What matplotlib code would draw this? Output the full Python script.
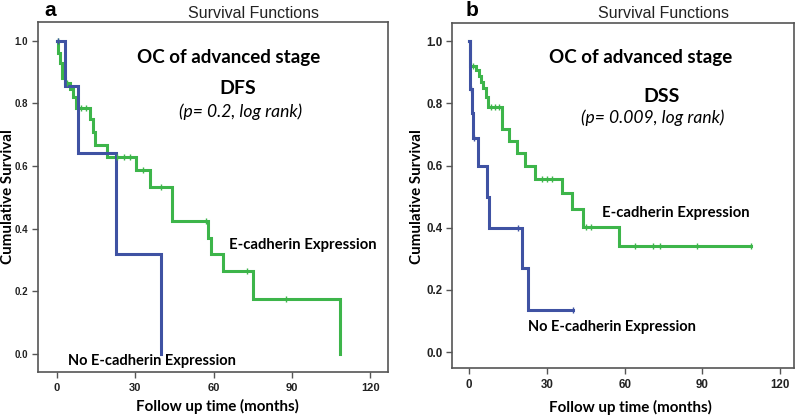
import numpy as np
import matplotlib
matplotlib.use("Agg")
import matplotlib.pyplot as plt

# ---------------- data ----------------
# Panel a: DFS
blue_a_t = [0, 3.0, 8.0, 22.6, 39.7]
blue_a_s = [1.0, 0.857, 0.643, 0.321, 0.0]
green_a_t = [0, 0.5, 1.2, 2.0, 3.1, 5.0, 6.2, 7.3, 12.6, 13.9, 14.6, 19.0, 30.2,
             35.6, 43.9, 58.0, 59.0, 63.6, 75.0, 108.4]
green_a_s = [1.0, 0.96, 0.93, 0.88, 0.865, 0.845, 0.82, 0.787, 0.75, 0.71, 0.667,
             0.63, 0.587, 0.532, 0.425, 0.372, 0.319, 0.266, 0.176, 0.0]
green_a_cens = [0.3, 4.0, 9.0, 11.0, 23.0, 25.5, 28.0, 33.0, 40.0, 57.0, 72.7, 87.7]
blue_a_cens = [0.2]

# Panel b: DSS
blue_b_t = [0, 0.2, 0.5, 1.0, 1.4, 3.6, 6.8, 7.8, 20.3, 22.6, 40.2]
blue_b_s = [1.0, 0.92, 0.846, 0.77, 0.69, 0.60, 0.50, 0.40, 0.27, 0.135, 0.135]
green_b_t = [0, 0.3, 2.7, 3.7, 4.6, 5.5, 6.6, 7.2, 12.7, 15.2, 18.4, 21.6, 25.5,
             35.7, 39.6, 44.1, 57.8, 108.6]
green_b_s = [1.0, 0.92, 0.907, 0.887, 0.869, 0.851, 0.82, 0.787, 0.719, 0.678,
             0.639, 0.600, 0.557, 0.511, 0.460, 0.401, 0.342, 0.342]
green_b_cens = [1.5, 8.5, 10.0, 11.5, 28.0, 30.0, 32.0, 45.0, 47.0, 64.0, 71.0,
                73.7, 87.8, 108.6]
blue_b_cens = [0.8, 2.0, 19.0, 40.2]

x_ticks = [0, 30, 60, 90, 120]
y_ticks = [0.0, 0.2, 0.4, 0.6, 0.8, 1.0]
y_ticklabels = ["0.0", "0.2", "0.4", "0.6", "0.8", "1.0"]

BLUE = "#3f52a3"
GREEN = "#3db54a"
CAL = ["Lato", "DejaVu Sans"]
ARI = ["Liberation Sans", "DejaVu Sans"]

fig = plt.figure(figsize=(8.0, 4.17), dpi=100)


def step_val(t, s, x):
    idx = np.searchsorted(np.asarray(t), x, side="right") - 1
    return np.asarray(s)[idx]


def draw_panel(ax, bt, bs, gt, gs, bc, gc, xfs, yfs):
    ax.step(gt, gs, where="post", color=GREEN, lw=2.2, solid_joinstyle="miter")
    ax.step(bt, bs, where="post", color=BLUE, lw=2.2, solid_joinstyle="miter")
    ax.plot(gc, [step_val(gt, gs, c) for c in gc], ls="none", marker="|",
            ms=4, mew=1.0, color=GREEN)
    ax.plot(bc, [step_val(bt, bs, c) for c in bc], ls="none", marker="|",
            ms=4, mew=1.0, color=BLUE)
    ax.set_xticks(x_ticks)
    ax.set_yticks(y_ticks)
    ax.set_yticklabels(y_ticklabels)
    for sp in ax.spines.values():
        sp.set_color("#555555")
        sp.set_linewidth(1.2)
    ax.tick_params(direction="out", length=4, width=1.0, color="#555555", pad=4)
    ax.tick_params(axis="x", labelsize=xfs)
    ax.tick_params(axis="y", labelsize=yfs, pad=3)
    for lab in ax.get_xticklabels() + ax.get_yticklabels():
        lab.set_fontfamily(ARI)
        lab.set_fontweight("bold")
        lab.set_color("#222222")


# ---------- panel a ----------
axa = fig.add_axes([0.0475, 0.1079, 0.4375, 0.8393])
draw_panel(axa, blue_a_t, blue_a_s, green_a_t, green_a_s, blue_a_cens,
           green_a_cens, 8.0, 7.0)
axa.set_xlim(-7.3, 126.8)
axa.set_ylim(-0.057, 1.06)

# ---------- panel b ----------
axb = fig.add_axes([0.565, 0.1175, 0.4275, 0.827])
draw_panel(axb, blue_b_t, blue_b_s, green_b_t, green_b_s, blue_b_cens,
           green_b_cens, 8.3, 8.3)
axb.set_xlim(-6.6, 125.3)
axb.set_ylim(-0.051, 1.058)


def ftxt(x, y, s, **kw):
    fig.text(x / 800, 1 - y / 417, s, **kw)


# panel letters and headers
ftxt(50, 10, "a", fontsize=15, fontweight="bold", family=ARI, ha="center", va="center")
ftxt(472, 10, "b", fontsize=15, fontweight="bold", family=ARI, ha="center", va="center")
ftxt(254, 13, "Survival Functions", fontsize=11.5, family=ARI, ha="center", va="center", color="#222222")
ftxt(663, 13, "Survival Functions", fontsize=11.5, family=ARI, ha="center", va="center", color="#222222")

# annotations panel a
ftxt(229, 57, "OC of advanced stage", fontsize=13.5, fontweight="bold", family=CAL, ha="center", va="center")
ftxt(238, 89, "DFS", fontsize=14, fontweight="bold", family=CAL, ha="center", va="center")
ftxt(241, 112, "(p= 0.2, log rank)", fontsize=12.6, style="italic", family=CAL, ha="center", va="center")
ftxt(229, 245, "E-cadherin Expression", fontsize=10.7, fontweight="bold", family=CAL, ha="left", va="center")
ftxt(68, 361, "No E-cadherin Expression", fontsize=10.5, fontweight="bold", family=CAL, ha="left", va="center")

# annotations panel b
ftxt(641, 58, "OC of advanced stage", fontsize=13.5, fontweight="bold", family=CAL, ha="center", va="center")
ftxt(662, 96, "DSS", fontsize=14, fontweight="bold", family=CAL, ha="center", va="center")
ftxt(653, 118, "(p= 0.009, log rank)", fontsize=12.6, style="italic", family=CAL, ha="center", va="center")
ftxt(602, 213, "E-cadherin Expression", fontsize=10.7, fontweight="bold", family=CAL, ha="left", va="center")
ftxt(528, 327, "No E-cadherin Expression", fontsize=10.5, fontweight="bold", family=CAL, ha="left", va="center")

# axis labels
ftxt(217, 406, "Follow up time (months)", fontsize=10.9, fontweight="bold", family=CAL, ha="center", va="center")
ftxt(630, 407, "Follow up time (months)", fontsize=10.9, fontweight="bold", family=CAL, ha="center", va="center")
ftxt(8, 197, "Cumulative Survival", fontsize=10.9, fontweight="bold", family=CAL, ha="center", va="center", rotation=90)
ftxt(417, 197, "Cumulative Survival", fontsize=10.9, fontweight="bold", family=CAL, ha="center", va="center", rotation=90)

fig.savefig("out.png", dpi=100)
